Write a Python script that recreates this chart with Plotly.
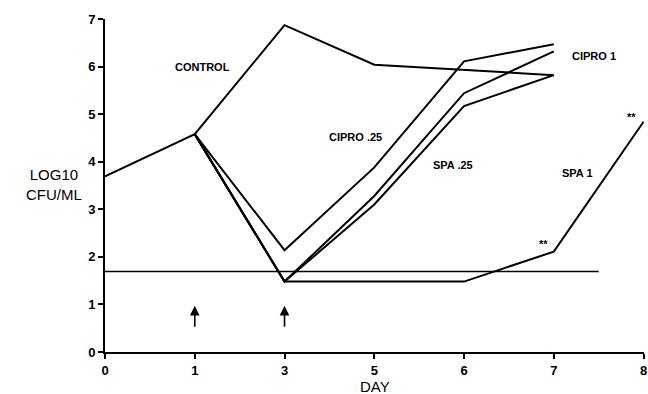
import plotly.graph_objects as go

# x axis: days placed at equally spaced positions
day_labels = ["0", "1", "3", "5", "6", "7", "8"]
day_pos = [0, 1, 2, 3, 4, 5, 6]

control_x = [0, 1, 2, 3, 5]
control_y = [3.69, 4.58, 6.87, 6.04, 5.82]

cipro025_x = [1, 2, 3, 4, 5]
cipro025_y = [4.58, 2.14, 3.88, 6.11, 6.47]

cipro1_x = [1, 2, 3, 4, 5]
cipro1_y = [4.58, 1.48, 3.28, 5.44, 6.32]

spa025_x = [1, 2, 3, 4, 5]
spa025_y = [4.58, 1.48, 3.10, 5.17, 5.82]

spa1_x = [1, 2, 3, 4, 5, 6]
spa1_y = [4.58, 1.48, 1.48, 1.48, 2.11, 4.84]

limit_x = [0, 5.5]
limit_y = [1.69, 1.69]

# dosing arrows (x position, tail y, tip y)
arrow_x = [1, 2]
arrow_tail = [0.5, 0.5]
arrow_tip = [0.97, 0.97]

labels = [
    ("CONTROL", 1.09, 6.0),
    ("CIPRO .25", 2.79, 4.51),
    ("SPA .25", 3.88, 3.93),
    ("SPA 1", 5.26, 3.77),
    ("CIPRO 1", 5.45, 6.22),
    ("**", 4.88, 2.26),
    ("**", 5.87, 4.93),
]

FONT = "Liberation Sans"

fig = go.Figure()
line = dict(color="black", width=2)
for xs, ys in [(control_x, control_y), (cipro025_x, cipro025_y), (cipro1_x, cipro1_y),
               (spa025_x, spa025_y), (spa1_x, spa1_y)]:
    fig.add_trace(go.Scatter(x=xs, y=ys, mode="lines", line=line, showlegend=False,
                             cliponaxis=False))
fig.add_trace(go.Scatter(x=limit_x, y=limit_y, mode="lines",
                         line=dict(color="black", width=1.5), showlegend=False))

for ax_, t, h in zip(arrow_x, arrow_tail, arrow_tip):
    fig.add_annotation(x=ax_, y=h, ax=ax_, ay=t, xref="x", yref="y", axref="x", ayref="y",
                       showarrow=True, arrowhead=2, arrowsize=1.2, arrowwidth=1.6,
                       arrowcolor="black", text="")

for txt, x, y in labels:
    fig.add_annotation(x=x, y=y, text=txt, showarrow=False, xref="x", yref="y",
                       font=dict(family=FONT, size=11, color="black", weight="bold"))

fig.add_annotation(x=0, y=3.52, xref="paper", yref="y", xanchor="right", xshift=-21,
                   text="LOG10<br>CFU/ML", showarrow=False, align="center",
                   font=dict(family=FONT, size=15, color="black"))

fig.add_annotation(x=0.5, y=0, xref="paper", yref="paper", yanchor="middle", yshift=-34,
                   text="DAY", showarrow=False,
                   font=dict(family=FONT, size=15, color="black"))

fig.update_layout(
    width=648, height=394,
    margin=dict(l=105, r=4, t=19, b=42, autoexpand=False),
    paper_bgcolor="white", plot_bgcolor="white",
    font=dict(family=FONT, color="black"),
    xaxis=dict(range=[0, 6.005], tickvals=day_pos, ticktext=day_labels, automargin=False,
               ticklabeloverflow="allow",
               showgrid=False, zeroline=False, showline=True, linecolor="black", linewidth=2,
               ticks="outside", ticklen=5, tickwidth=1.5, tickcolor="black",
               tickfont=dict(size=13, family=FONT, weight="bold")),
    yaxis=dict(range=[0, 7], dtick=1, showgrid=False, zeroline=False, showline=True,
               automargin=False, ticklabeloverflow="allow",
               linecolor="black", linewidth=2, ticks="outside", ticklen=5, tickwidth=1.5,
               tickcolor="black",
               tickfont=dict(size=13, family=FONT, weight="bold")),
)

fig.write_html(
    "out.html",
    config={"displayModeBar": False},
    post_script="document.body.style.margin='0';document.body.style.overflow='hidden';",
)
